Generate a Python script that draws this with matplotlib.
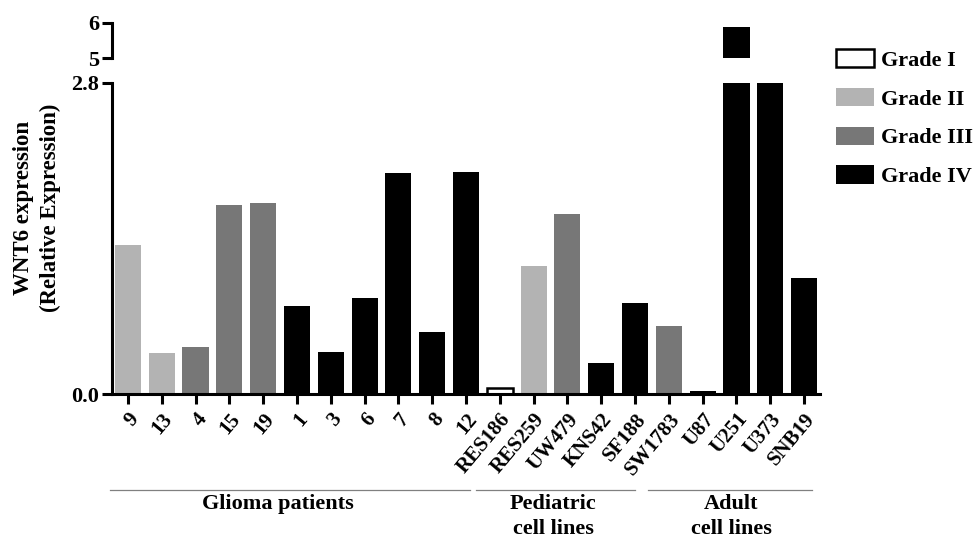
import matplotlib
matplotlib.use("Agg")
import matplotlib.pyplot as plt
from matplotlib.patches import Patch
import matplotlib.transforms as mtransforms

plt.rcParams['font.family'] = ['Liberation Serif', 'DejaVu Serif']
plt.rcParams['font.weight'] = 'bold'

categories = ["9", "13", "4", "15", "19", "1", "3", "6", "7", "8", "12",
              "RES186", "RES259", "UW479", "KNS42", "SF188",
              "SW1783", "U87", "U251", "U373", "SNB19"]
values = [1.34, 0.37, 0.42, 1.70, 1.72, 0.79, 0.38, 0.86, 1.99, 0.56, 2.00,
          0.05, 1.15, 1.62, 0.28, 0.82,
          0.61, 0.03, 5.89, 2.80, 1.04]
grades = ["II", "II", "III", "III", "III", "IV", "IV", "IV", "IV", "IV", "IV",
          "I", "II", "III", "IV", "IV",
          "III", "IV", "IV", "IV", "IV"]
grade_names = ["I", "II", "III", "IV"]
grade_colors = {"I": "white", "II": "#b3b3b3", "III": "#777777", "IV": "black"}
groups = ["Glioma patients", "Pediatric\ncell lines", "Adult\ncell lines"]

W, H = 978, 540
fig = plt.figure(figsize=(W / 100, H / 100), dpi=100)

def fx(px):
    return px / W

def fy(py):
    return (H - py) / H

left, right = 112, 820
ax = fig.add_axes([fx(left), fy(394), fx(right - left), fy(83) - fy(394)])
axu = fig.add_axes([fx(left), fy(58), fx(right - left), fy(22.7) - fy(58)])

x = list(range(len(categories)))
cols = [grade_colors[g] for g in grades]
edges = ["black" if g == "I" else "none" for g in grades]
for a in (ax, axu):
    a.bar(x, values, width=0.77, color=cols, edgecolor=edges, linewidth=1.8)
    a.set_xlim(-0.47, 20.47)

lw = 2.2
ax.set_ylim(0, 2.8)
ax.set_yticks([0, 2.8])
ax.set_yticklabels(["0.0", "2.8"])
ax.set_xticks(x)
ax.set_xticklabels(categories, rotation=50, ha='right', rotation_mode='anchor', fontsize=15)
for s in ("top", "right"):
    ax.spines[s].set_visible(False)
for s in ("left", "bottom"):
    ax.spines[s].set_linewidth(lw)
ax.tick_params(axis='both', direction='out', length=7, width=lw, pad=2)
ax.tick_params(axis='y', labelsize=16)
ax.tick_params(axis='x', pad=4)

axu.set_ylim(5, 6)
axu.set_yticks([5, 6])
axu.set_yticklabels(["5", "6"])
axu.set_xticks([])
for s in ("top", "right", "bottom"):
    axu.spines[s].set_visible(False)
axu.spines["left"].set_linewidth(lw)
axu.tick_params(axis='y', direction='out', length=7, width=lw, labelsize=16, pad=2)

fig.text(fx(37), fy(208), "WNT6 expression\n(Relative Expression)", rotation=90,
         ha='center', va='center', multialignment='center', fontsize=16.5,
         fontweight='bold', linespacing=1.3)

# group lines and labels
trans = mtransforms.blended_transform_factory(ax.transData, fig.transFigure)
line_spans = [(-0.53, 10.12), (10.30, 15.0), (15.38, 20.24)]
text_x = [4.44, 12.58, 17.85]
for name, (a0, a1), tx in zip(groups, line_spans, text_x):
    ax.plot([a0, a1], [fy(490), fy(490)], transform=trans, color="#808080", lw=0.9, clip_on=False)
    ax.text(tx, fy(494), name, transform=trans, ha='center', va='top', fontsize=16,
            fontweight='bold', linespacing=1.3)

handles = [Patch(facecolor=grade_colors[g], edgecolor="black" if g == "I" else grade_colors[g],
                 linewidth=1.8 if g == "I" else 0, label="Grade " + g) for g in grade_names]
fig.legend(handles=handles, loc='upper left', bbox_to_anchor=(fx(836), fy(49)), frameon=False,
           handlelength=1.7, handleheight=0.9, labelspacing=0.76, handletextpad=0.32,
           borderaxespad=0, borderpad=0, prop={'weight': 'bold', 'size': 16})

fig.savefig("out.png", dpi=100)
